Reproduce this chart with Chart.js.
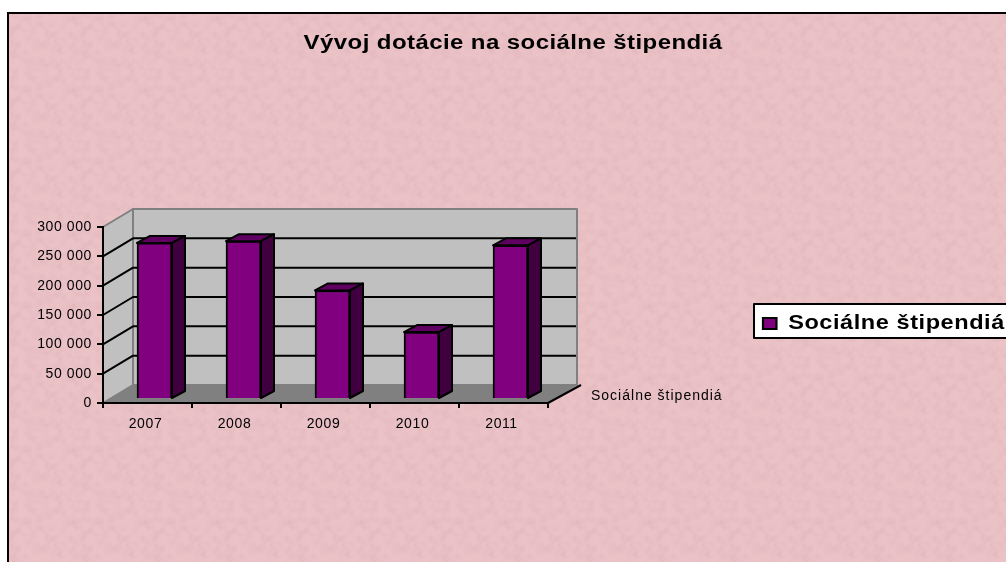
<!DOCTYPE html>
<html><head><meta charset="utf-8">
<style>
html,body{margin:0;padding:0;background:#fff;width:1006px;height:562px;overflow:hidden}
#bg{position:absolute;left:7px;top:12px;width:997px;height:548px;border-left:2px solid #000;border-top:2px solid #000;
background-color:#ebc3c7;
background-image:url("data:image/svg+xml;utf8,<svg xmlns='http://www.w3.org/2000/svg' width='72' height='72'><filter id='n' x='0' y='0' width='100%' height='100%'><feTurbulence type='fractalNoise' baseFrequency='0.11' numOctaves='4' seed='7' stitchTiles='stitch'/><feColorMatrix values='0 0 0 0 0.66 0 0 0 0 0.38 0 0 0 0 0.42 0.75 0 0 0 -0.27'/></filter><rect width='72' height='72' filter='url(%23n)'/></svg>");}
#wrap{position:absolute;left:0;top:0;width:1006px;height:562px}
</style>
<script src="https://cdn.jsdelivr.net/npm/chart.js@4"></script>
</head><body>
<div id="bg"></div>
<div id="wrap"><canvas id="c" width="1006" height="562"></canvas></div>
<script>
const categories = ['2007','2008','2009','2010','2011'];
const seriesName = 'Sociálne štipendiá';
const values = [266000,269000,185000,114000,262000];
const chartTitle = 'Vývoj dotácie na sociálne štipendiá';
const yMax = 300000, yStep = 50000;

const DX = 30, DY = 18;       // depth of the 3D box
const BX = 7, BY = -4;        // bars sit inside the depth
const SX = 13, SY = 7;        // depth of a bar
const FONT = '"Liberation Sans", Arial, sans-serif';

function poly(ctx, pts, fill, stroke, lw){
  ctx.beginPath();
  pts.forEach((p,i)=> i?ctx.lineTo(p[0],p[1]):ctx.moveTo(p[0],p[1]));
  ctx.closePath();
  if(fill){ctx.fillStyle=fill;ctx.fill();}
  if(stroke){ctx.strokeStyle=stroke;ctx.lineWidth=lw;ctx.lineJoin='round';ctx.stroke();}
}
// the reference's text is horizontally stretched: widen it around an origin
function stretched(box, spacing, sx, originX){
  if(box._stretched) return;
  const d=box.draw;
  box._stretched=true;
  box.draw=function(...args){
    const c=this.ctx;
    c.save();
    c.letterSpacing=spacing;
    c.translate(originX,0);c.scale(sx,1);c.translate(-originX,0);
    d.apply(this,args);
    c.restore();
  };
}
const box3d = {
  id:'box3d',
  beforeDraw(chart){
    const ctx=chart.ctx, a=chart.chartArea, ys=chart.scales.y;
    ctx.letterSpacing='0.6px';
    ctx.save();
    const R=a.right+29;
    poly(ctx,[[a.left,a.bottom],[a.left+DX,a.bottom-DY],[R,a.bottom-DY],[a.right,a.bottom]],'#808080','#808080',1);
    poly(ctx,[[a.left,a.top],[a.left+DX,a.top-DY],[a.left+DX,a.bottom-DY],[a.left,a.bottom]],'#c0c0c0','#808080',2);
    poly(ctx,[[a.left+DX,a.top-DY],[R,a.top-DY],[R,a.bottom-DY],[a.left+DX,a.bottom-DY]],'#c0c0c0','#808080',2);
    ctx.strokeStyle='#000';ctx.lineWidth=2;
    ys.ticks.forEach(t=>{
      if(t.value===0||t.value===yMax)return;
      const y=ys.getPixelForValue(t.value);
      ctx.beginPath();ctx.moveTo(a.left,y);ctx.lineTo(a.left+DX,y-DY);ctx.lineTo(R-1,y-DY);ctx.stroke();
    });
    ctx.beginPath();ctx.moveTo(a.right,a.bottom);ctx.lineTo(a.right+DX+3,a.bottom-DY);ctx.stroke();
    const l=chart.legend;
    ctx.fillStyle='#fff';ctx.fillRect(l.left,l.top,270,34);
    ctx.strokeStyle='#000';ctx.lineWidth=2;ctx.strokeRect(l.left,l.top,270,34);
    ctx.restore();
  },
  afterLayout(chart){
    const t=chart.titleBlock; t.left=0;t.right=1026;t.top=33;t.bottom=53;
    const l=chart.legend; l.left=754;l.right=1006;l.top=304;l.bottom=338;
    stretched(t,'0.35px',1.2,513); stretched(l,'0.5px',1.12,763);
  },
  beforeDatasetsDraw(chart){chart.ctx.save();chart.ctx.translate(BX,BY);},
  afterDatasetsDraw(chart){
    const ctx=chart.ctx;
    chart.getDatasetMeta(0).data.forEach(b=>{
      const l=b.x-b.width/2,r=b.x+b.width/2,t=b.y,bt=b.base;
      poly(ctx,[[l,t],[l+SX,t-SY],[r+SX,t-SY],[r,t]],'#600060','#000',2);
      poly(ctx,[[r,t],[r+SX,t-SY],[r+SX,bt-SY],[r,bt]],'#400040','#000',2);
    });
    ctx.restore();
  },
  afterDraw(chart){
    const ctx=chart.ctx;
    ctx.save();ctx.font='14px '+FONT;ctx.letterSpacing='1px';ctx.fillStyle='#000';ctx.textAlign='left';ctx.textBaseline='middle';
    ctx.fillText(seriesName,591,396);
    ctx.restore();
  }
};
Chart.defaults.animation=false;
new Chart(document.getElementById('c'),{
  type:'bar',
  data:{labels:categories,datasets:[{label:seriesName,data:values,backgroundColor:'#800080',borderColor:'#000',borderWidth:2,barThickness:35,clip:false}]},
  plugins:[box3d],
  options:{
    responsive:false,
    layout:{padding:{left:0,top:207,right:458,bottom:0}},
    plugins:{
      tooltip:{enabled:false},
      title:{display:true,text:chartTitle,color:'#000',padding:0,font:{family:FONT,size:20,weight:'bold',lineHeight:1}},
      legend:{display:true,position:'chartArea',align:'start',
        labels:{boxWidth:12,boxHeight:11,padding:9,color:'#000',font:{family:FONT,size:21,weight:'bold'}}}
    },
    scales:{
      x:{afterFit(s){s.height=159;},
        grid:{offset:true,drawOnChartArea:false,drawTicks:true,tickLength:5,color:'#000',lineWidth:2},
        border:{color:'#000',width:2},
        ticks:{color:'#000',padding:8,font:{family:FONT,size:14},maxRotation:0,labelOffset:-2}},
      y:{min:0,max:yMax,afterFit(s){s.width=103;},
        grid:{drawOnChartArea:false,drawTicks:true,tickLength:6,color:'#000',lineWidth:2},
        border:{color:'#000',width:2},
        ticks:{stepSize:yStep,color:'#000',padding:5,font:{family:FONT,size:14},
          callback:v=>String(v).replace(/\B(?=(\d{3})+$)/g,' ')}}
    }
  }
});
</script>
</body></html>
